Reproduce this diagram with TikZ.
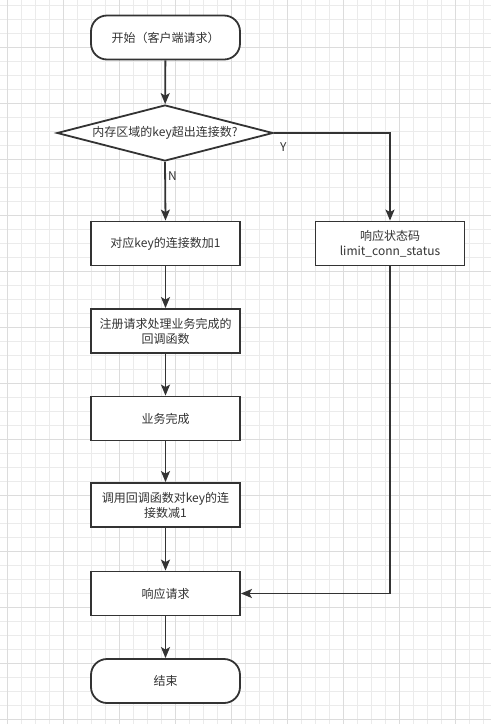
\documentclass[tikz,border=0pt]{standalone}
\usepackage{fontspec}
\setmainfont{Noto Sans CJK SC}
\usetikzlibrary{arrows.meta,shapes.geometric}
\definecolor{linegray}{HTML}{333333}
\definecolor{gridminor}{HTML}{EBEBEB}
\definecolor{gridmajor}{HTML}{DCDCDC}
\tikzset{
 flow/.style={line width=1.8pt,draw=linegray,-{Stealth[length=11pt,width=9pt,inset=2.5pt]}},
 stepbox/.style={rectangle,draw=linegray,line width=1.8pt,fill=white,minimum width=149pt,minimum height=44pt,inner sep=0pt,align=center,font=\fontsize{12}{15}\selectfont,text=linegray},
 terminal/.style={stepbox,rounded corners=16pt},
 decision/.style={diamond,aspect=3.8,draw=linegray,line width=1.8pt,fill=white,minimum width=216pt,minimum height=56pt,inner sep=0pt,font=\fontsize{12}{15}\selectfont,text=linegray},
 branch/.style={font=\fontsize{12}{15}\selectfont,text=linegray,inner sep=2pt},
 minorline/.style={draw=gridminor,line width=.8pt},
 majorline/.style={draw=gridmajor,line width=1pt}
}
\begin{document}
\begin{tikzpicture}[x=1pt,y=-1pt]
\path[use as bounding box,fill=white] (0,0) rectangle (491,724);
\foreach \gx in {7,21,...,491} \draw[minorline] (\gx,0) -- (\gx,724);
\foreach \gy in {5.5,19.5,...,724} \draw[minorline] (0,\gy) -- (491,\gy);
\foreach \gx in {7,63,...,491} \draw[majorline] (\gx,0) -- (\gx,724);
\foreach \gy in {47.5,103.5,...,724} \draw[majorline] (0,\gy) -- (491,\gy);
\node[terminal] (start) at (165.5,37.5) {开始（客户端请求）};
\node[decision] (ask) at (165,133) {内存区域的key超出连接数?};
\node[stepbox] (incr) at (165.5,243.5) {对应key的连接数加1};
\node[stepbox] (status) at (390,243.5) {响应状态码\\limit\_conn\_status};
\node[stepbox] (reg) at (165.5,331) {注册请求处理业务完成的\\回调函数};
\node[stepbox] (done) at (165.5,418.5) {业务完成};
\node[stepbox] (decr) at (165.5,505) {调用回调函数对key的连\\接数减1};
\node[stepbox] (resp) at (165.5,593.5) {响应请求};
\node[terminal] (stop) at (165.5,681) {结束};
\draw[flow] (start) -- (ask);
\draw[flow] (ask.south) -- node[branch,pos=.25,right]{N} (incr.north);
\draw[flow] (ask.east) -| node[branch,pos=.04,below=7pt]{Y} (status.north);
\draw[flow] (incr) -- (reg);
\draw[flow] (reg) -- (done);
\draw[flow] (done) -- (decr);
\draw[flow] (decr) -- (resp);
\draw[flow] (resp) -- (stop);
\draw[flow] (status.south) |- (resp.east);
\end{tikzpicture}
\end{document}
